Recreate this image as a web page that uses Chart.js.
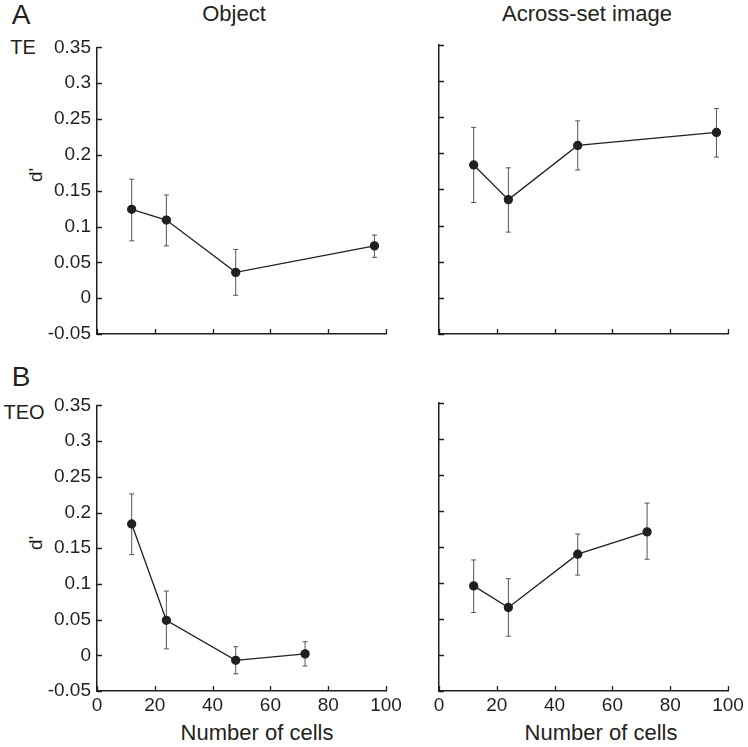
<!DOCTYPE html>
<html>
<head>
<meta charset="utf-8">
<script src="https://cdn.jsdelivr.net/npm/chart.js@4/dist/chart.umd.min.js"></script>
<style>
  html, body { margin: 0; padding: 0; background: #fff; }
  body { width: 748px; height: 747px; position: relative; overflow: hidden;
         font-family: "Liberation Sans", Arial, sans-serif; color: #231f20; }
  canvas { position: absolute; }
  .lbl { position: absolute; line-height: 1; white-space: nowrap; transform: translate(-50%, -50%); }
  .rot { transform: translate(-50%, -50%) rotate(-90deg); }
</style>
</head>
<body>
<div class="lbl" style="left:21px;top:15px;font-size:28px">A</div>
<div class="lbl" style="left:23px;top:47px;font-size:20px">TE</div>
<div class="lbl" style="left:21px;top:377px;font-size:28px">B</div>
<div class="lbl" style="left:24px;top:412px;font-size:20px">TEO</div>
<div class="lbl" style="left:234px;top:14px;font-size:22px">Object</div>
<div class="lbl" style="left:587px;top:14px;font-size:22px">Across-set image</div>
<div class="lbl rot" style="left:35px;top:175px;font-size:19px">d'</div>
<div class="lbl rot" style="left:35px;top:543px;font-size:19px">d'</div>
<div class="lbl" style="left:257px;top:733px;font-size:22px">Number of cells</div>
<div class="lbl" style="left:601px;top:733px;font-size:22px">Number of cells</div>

<canvas id="teObj"></canvas>
<canvas id="teAcross"></canvas>
<canvas id="teoObj"></canvas>
<canvas id="teoAcross"></canvas>

<script>
// x positions (number of cells)
const cellsTE = [12, 24, 48, 96];
const cellsTEO = [12, 24, 48, 72];

// TE, object
const teObject   = [0.124, 0.109, 0.036, 0.073];
const teObjectHi = [0.166, 0.144, 0.068, 0.088];
const teObjectLo = [0.080, 0.073, 0.004, 0.057];

// TE, across-set image
const teAcross   = [0.184, 0.136, 0.211, 0.229];
const teAcrossHi = [0.236, 0.180, 0.245, 0.262];
const teAcrossLo = [0.132, 0.091, 0.177, 0.195];

// TEO, object
const teoObject   = [0.184, 0.049, -0.007, 0.002];
const teoObjectHi = [0.226, 0.090, 0.012, 0.019];
const teoObjectLo = [0.141, 0.009, -0.026, -0.015];

// TEO, across-set image
const teoAcross   = [0.096, 0.066, 0.140, 0.171];
const teoAcrossHi = [0.132, 0.106, 0.168, 0.211];
const teoAcrossLo = [0.059, 0.026, 0.111, 0.133];

// axes
const yTickValues = [-0.05, 0, 0.05, 0.1, 0.15, 0.2, 0.25, 0.3, 0.35];
const yTickLabels = ['-0.05', '0', '0.05', '0.1', '0.15', '0.2', '0.25', '0.3', '0.35'];
const xTickValues = [0, 20, 40, 60, 80, 100];
const xTickLabels = ['0', '20', '40', '60', '80', '100'];

const ink = '#231f20';
const AXIS_W = 97, PAD_TOP = 15, PAD_RIGHT = 25, X_H = 30, PLOT_W = 289;

// error bars + inward tick marks
const extras = {
  id: 'extras',
  beforeDatasetsDraw(chart) {
    const ctx = chart.ctx, xs = chart.scales.x, ys = chart.scales.y;
    chart.data.datasets.forEach(ds => {
      ctx.save();
      ctx.strokeStyle = '#555';
      ctx.lineWidth = 1;
      ds.data.forEach((p, i) => {
        const x = xs.getPixelForValue(p.x);
        const y1 = ys.getPixelForValue(ds.errHi[i]);
        const y2 = ys.getPixelForValue(ds.errLo[i]);
        ctx.beginPath();
        ctx.moveTo(x, y1); ctx.lineTo(x, y2);
        ctx.moveTo(x - 2.5, y1); ctx.lineTo(x + 2.5, y1);
        ctx.moveTo(x - 2.5, y2); ctx.lineTo(x + 2.5, y2);
        ctx.stroke();
      });
      ctx.restore();
    });
  },
  afterDraw(chart) {
    const ctx = chart.ctx, xs = chart.scales.x, ys = chart.scales.y, a = chart.chartArea;
    ctx.save();
    ctx.strokeStyle = ink;
    ctx.lineWidth = 1.3;
    ctx.beginPath();
    ys.ticks.forEach(t => {
      const y = Math.round(ys.getPixelForValue(t.value)) + 0.5;
      ctx.moveTo(a.left, y); ctx.lineTo(a.left + 5, y);
    });
    xs.ticks.forEach(t => {
      const x = Math.round(xs.getPixelForValue(t.value)) + 0.5;
      ctx.moveTo(x, a.bottom); ctx.lineTo(x, a.bottom - 5);
    });
    ctx.stroke();
    ctx.restore();
  }
};

function panel(id, left, top, plotH, xs, vals, hi, lo, showY, showX) {
  const el = document.getElementById(id);
  const w = AXIS_W + PLOT_W + PAD_RIGHT, h = PAD_TOP + plotH + X_H;
  el.width = w; el.height = h;
  el.style.left = (left - AXIS_W) + 'px';
  el.style.top = (top - PAD_TOP) + 'px';
  el.style.width = w + 'px'; el.style.height = h + 'px';
  return new Chart(el, {
    type: 'line',
    data: {
      datasets: [{
        data: xs.map((x, i) => ({ x: x, y: vals[i] })),
        errHi: hi, errLo: lo,
        borderColor: ink, borderWidth: 1.3,
        pointBackgroundColor: ink, pointBorderColor: ink,
        pointRadius: 4, tension: 0
      }]
    },
    options: {
      responsive: false, animation: false,
      layout: { padding: { top: PAD_TOP, right: PAD_RIGHT, left: 0, bottom: 0 } },
      plugins: { legend: { display: false }, tooltip: { enabled: false } },
      scales: {
        x: {
          type: 'linear', min: 0, max: 100,
          afterBuildTicks: s => { s.ticks = xTickValues.map(v => ({ value: v })); },
          afterFit: s => { s.height = X_H; },
          grid: { display: false, drawTicks: false, tickLength: 0 },
          border: { display: true, color: ink, width: 1.5 },
          ticks: {
            display: showX, maxRotation: 0, padding: 3,
            color: ink, font: { family: '"Liberation Sans", Arial', size: 19 },
            callback: (v, i) => xTickLabels[i]
          }
        },
        y: {
          type: 'linear', min: -0.05, max: 0.35,
          afterBuildTicks: s => { s.ticks = yTickValues.map(v => ({ value: v })); },
          afterFit: s => { s.width = AXIS_W; },
          grid: { display: false, drawTicks: false, tickLength: 0 },
          border: { display: true, color: ink, width: 1.5 },
          ticks: {
            display: showY, padding: 6,
            color: ink, font: { family: '"Liberation Sans", Arial', size: 19 },
            callback: (v, i) => yTickLabels[i]
          }
        }
      }
    },
    plugins: [extras]
  });
}

panel('teObj', 97, 45, 289, cellsTE, teObject, teObjectHi, teObjectLo, true, false);
panel('teAcross', 439, 45, 289, cellsTE, teAcross, teAcrossHi, teAcrossLo, false, false);
panel('teoObj', 97, 403, 288, cellsTEO, teoObject, teoObjectHi, teoObjectLo, true, true);
panel('teoAcross', 439, 403, 288, cellsTEO, teoAcross, teoAcrossHi, teoAcrossLo, false, true);
</script>
</body>
</html>
